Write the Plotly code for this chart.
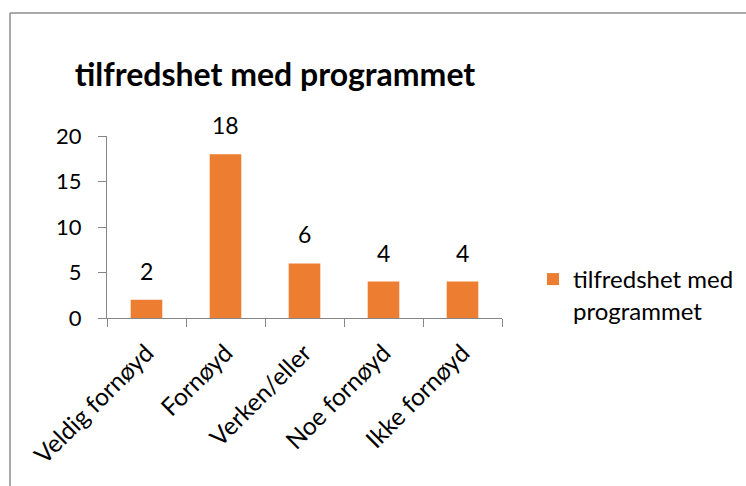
import plotly.graph_objects as go

categories = ["Veldig fornøyd", "Fornøyd", "Verken/eller", "Noe fornøyd", "Ikke fornøyd"]
values = [2, 18, 6, 4, 4]
series_name = "tilfredshet med programmet"
legend_label = "tilfredshet med<br>programmet"
y_ticks = [0, 5, 10, 15, 20]

FONT = "Lato"
BAR = "#ED7D31"
AXIS = "#868686"

W, H = 746, 486
L, R, T, B = 107, 244, 136, 168
pw, ph = W - L - R, H - T - B

def px2x(px):
    return (px - L) / pw

def py2y(py):
    return (H - B - py) / ph

fig = go.Figure()
fig.add_trace(go.Bar(
    x=categories, y=values, name=legend_label,
    marker=dict(color=BAR, line=dict(width=0)), width=0.4,
    showlegend=True,
))

for c, v in zip(categories, values):
    fig.add_annotation(x=c, y=v, text=str(v), showarrow=False, yanchor="middle",
                       yshift=29, font=dict(family=FONT, size=23, color="black"))

# outer chart border (left and top)
fig.add_shape(type="line", xref="paper", yref="paper",
              x0=px2x(10), x1=px2x(10), y0=py2y(13), y1=py2y(500),
              line=dict(color="#8c8c8c", width=1.5))
fig.add_shape(type="line", xref="paper", yref="paper",
              x0=px2x(10), x1=px2x(760), y0=py2y(13), y1=py2y(13),
              line=dict(color="#8c8c8c", width=1.5))

fig.update_layout(
    width=W, height=H,
    margin=dict(l=L, r=R, t=T, b=B, autoexpand=False),
    paper_bgcolor="white", plot_bgcolor="white",
    font=dict(family=FONT, color="black"),
    title=dict(text="<b>" + series_name + "</b>", x=275 / W, xanchor="center",
               y=1 - 75 / H, yanchor="middle",
               font=dict(family=FONT, size=32, color="black")),
    bargap=0.6,
    showlegend=True,
    legend=dict(x=px2x(533), y=py2y(257), xanchor="left", yanchor="top",
                font=dict(family=FONT, size=24, color="black"),
                itemwidth=30, valign="top", bgcolor="rgba(0,0,0,0)"),
    xaxis=dict(
        type="category", showline=True, linecolor=AXIS, linewidth=1,
        ticks="outside", ticklen=8, tickcolor=AXIS, tickson="boundaries",
        tickangle=-45, ticklabelstandoff=10,
        tickfont=dict(family=FONT, size=24.5, color="black"),
        showgrid=False, zeroline=False,
    ),
    yaxis=dict(
        range=[0, 20], tickvals=y_ticks, showline=True, linecolor=AXIS, linewidth=1,
        ticks="outside", ticklen=8, tickcolor=AXIS, ticklabelstandoff=12,
        tickfont=dict(family=FONT, size=22, color="black"),
        showgrid=False, zeroline=False,
    ),
)

fig.write_html("out.html", config={"displayModeBar": False},
               post_script="document.body.style.margin='0';")
